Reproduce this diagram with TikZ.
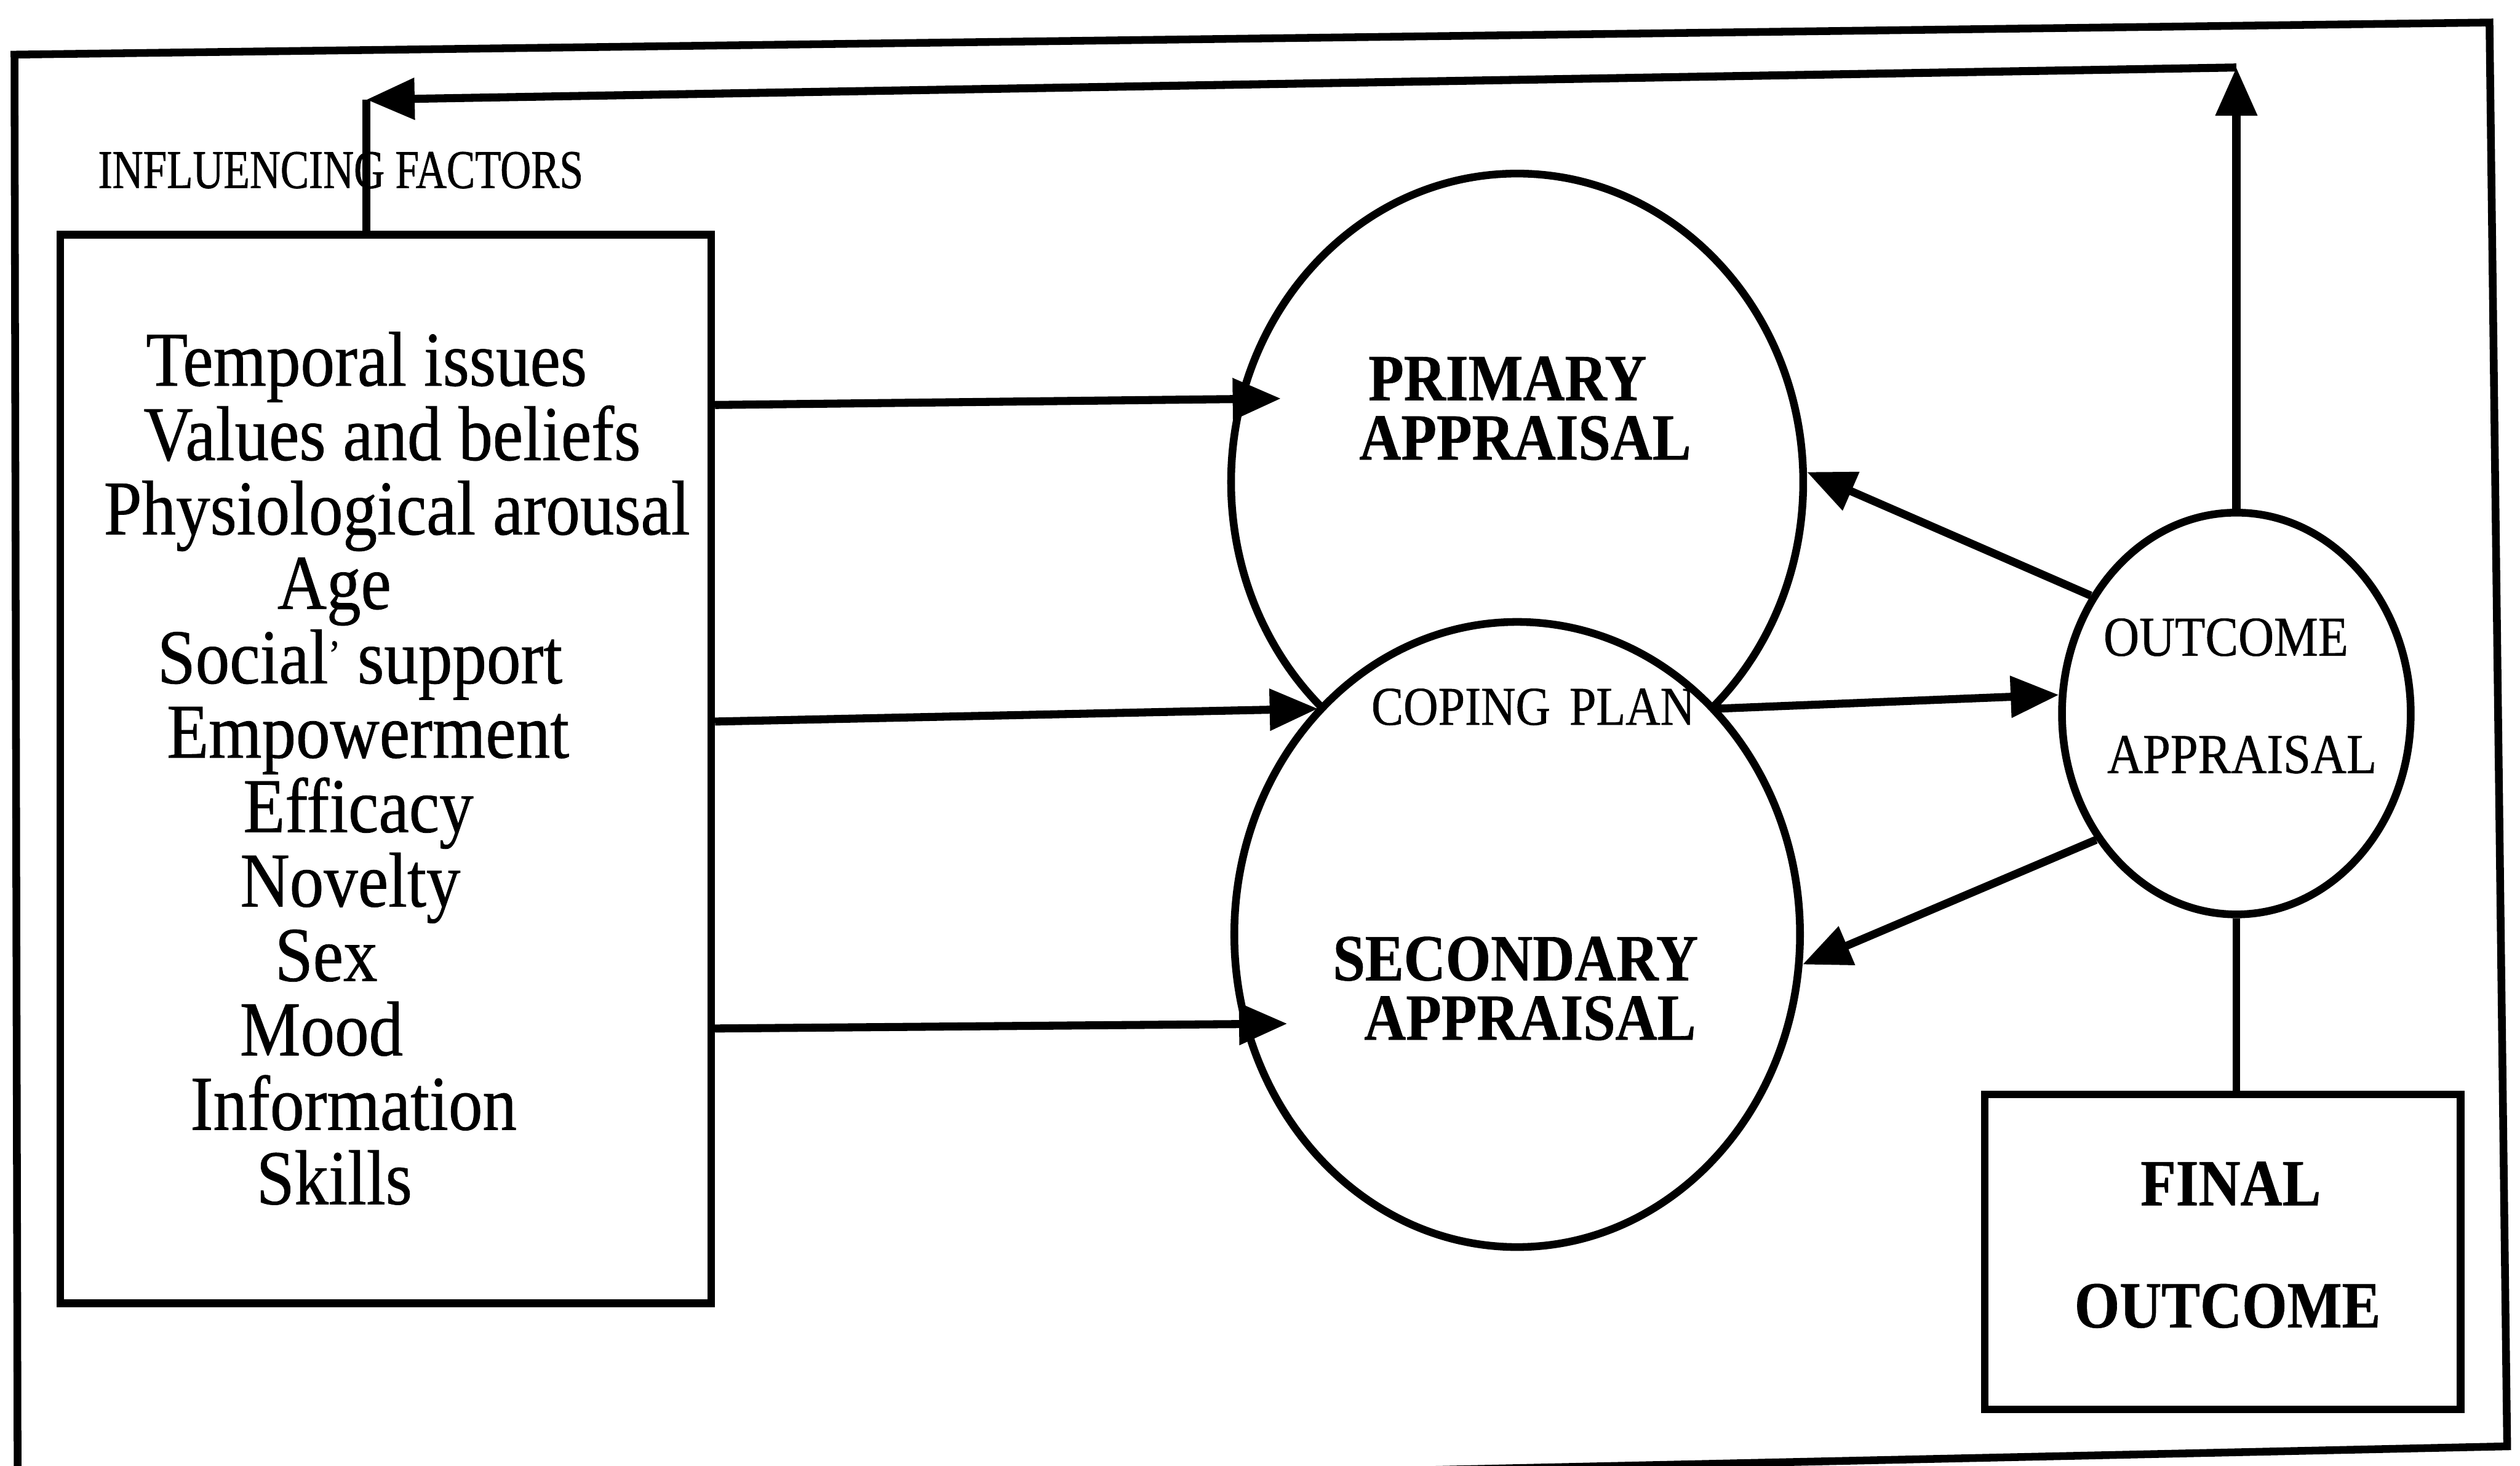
\documentclass[tikz,border=0pt]{standalone}
\usepackage{fontspec}
\setmainfont{Liberation Serif}[FakeStretch=0.88,FakeBold=0.6]
\newfontfamily\capsnarrow{Liberation Serif}[FakeStretch=0.78,FakeBold=0.8]
\usetikzlibrary{arrows.meta,shapes.geometric}

\begin{document}
\begin{tikzpicture}[x=1pt,y=-1pt,
  conn/.style={line width=5pt,-{Triangle[length=30pt,width=25pt]}},
  plain/.style={line width=4.8pt},
  bubble/.style={draw,ellipse,line width=4.8pt,inner sep=0pt},
  panel/.style={draw,rectangle,line width=4.8pt,inner sep=0pt},
  factor/.style={anchor=base,inner sep=0pt,font=\fontsize{48.3}{50}\selectfont},
  heading/.style={anchor=base,inner sep=0pt,font=\fontsize{41}{42}\selectfont\bfseries},
  caption/.style={anchor=base,inner sep=0pt,font=\fontsize{35}{36}\selectfont},
]
% page
\path[fill=white,use as bounding box] (0,0) rectangle (1568,912);

% outer frame
\draw[line width=4.8pt,line join=miter] (9,34) -- (1549,14) -- (1560,900) -- (11,934) -- cycle;

% appraisal bubbles (secondary drawn over primary)
\node[bubble,minimum width=356pt,minimum height=384pt] (prim) at (944,300) {};
\node[bubble,fill=white,minimum width=352pt,minimum height=389pt] (sec) at (944,581.5) {};
\node[bubble,minimum width=217pt,minimum height=250pt] (outc) at (1391.5,444) {};

% boxes
\node[panel,minimum width=296pt,minimum height=196pt] (fin) at (1383,779) {};
\node[panel,minimum width=405pt,minimum height=665pt] (lbox) at (240,478.5) {};

% feedback loop to the influencing factors
\coordinate (cR) at (1389,42);
\coordinate (cL) at (228,62);
\draw[conn] (outc.north) -- (outc.north |- cR);
\draw[conn] (outc.north |- cR) -- (cL);
\draw[plain] (cL) -- (cL |- lbox.north);

% factors feed the appraisals
\coordinate (t1) at (797,248);
\coordinate (t2) at (820,441);
\coordinate (t3) at (801,637);
\coordinate (planR) at (1068,441);
\draw[conn] (lbox.east |- 0,252) -- (t1);
\draw[conn] (lbox.east |- 0,449) -- (t2);
\draw[conn] (lbox.east |- 0,640) -- (t3);

% coping plan to outcome appraisal, and back
\draw[conn] (planR) -- (outc.174);
\draw[conn] (outc.141) -- (prim.2);
\draw[conn] (outc.222) -- (sec.-6);
\draw[plain] (outc.south) -- (outc.south |- fin.north);

% labels
\node[anchor=base,inner sep=0pt,font=\capsnarrow\fontsize{34}{35}\selectfont] (infl) at (212,117) {INFLUENCING FACTORS};

\foreach \txt/\cx [count=\i from 0] in {Temporal issues/228,Values and beliefs/244,Physiological arousal/247,Age/208,Social\raisebox{9pt}{\fontsize{26}{26}\selectfont’} support/224,Empowerment/229,Efficacy/223,Novelty/218,Sex/203,Mood/200,Information/220,Skills/208}
  \node[factor] (f\i) at (\cx,{240+46.3*\i}) {\txt};

\node[heading] (primA) at (938,249) {PRIMARY};
\node[heading] (primB) at (949,286) {APPRAISAL};
\node[heading] (secA) at (943,610) {SECONDARY};
\node[heading] (secB) at (952,647) {APPRAISAL};
\node[caption,font=\fontsize{34}{36}\selectfont] (plan) at (954,451) {COPING\hspace{0.35em}PLAN};
\node[caption] (outA) at (1385,408) {OUTCOME};
\node[caption] (outB) at (1395,481) {APPRAISAL};
\node[heading] (finA) at (1388,750) {FINAL};
\node[heading] (finB) at (1386,826) {OUTCOME};
\end{tikzpicture}
\end{document}
